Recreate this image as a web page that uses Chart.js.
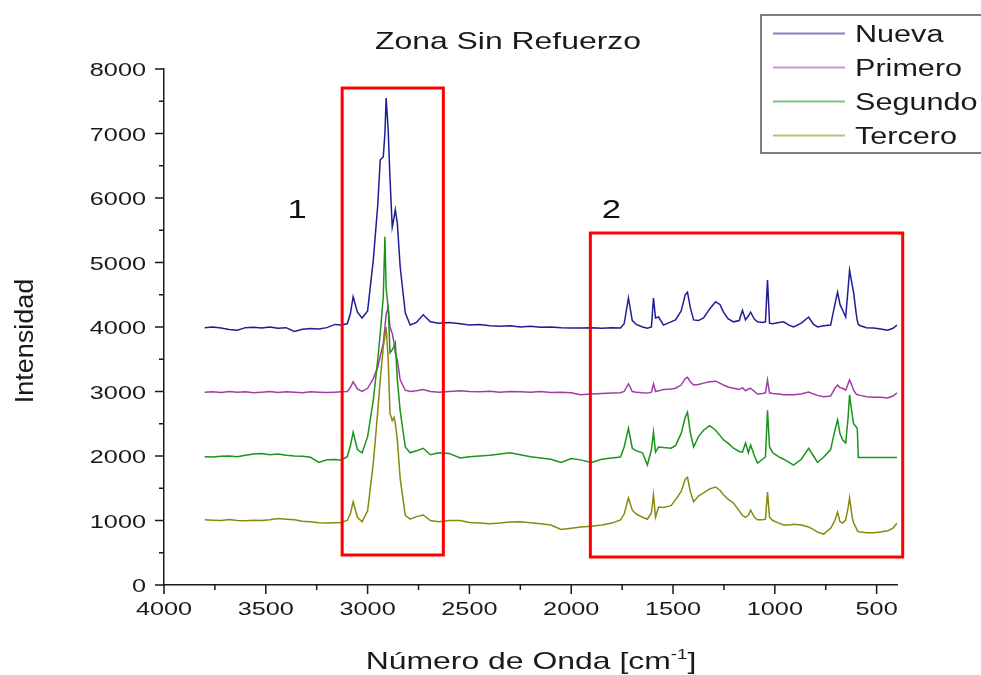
<!DOCTYPE html>
<html>
<head>
<meta charset="utf-8">
<script src="https://cdn.jsdelivr.net/npm/chart.js@4.4.1/dist/chart.umd.min.js"></script>
<style>
  html, body { margin: 0; padding: 0; background: #fff; }
  #wrap { width: 981px; height: 675px; }
</style>
</head>
<body>
<div id="wrap"><canvas id="chart" width="981" height="675"></canvas></div>
<script>
// wavenumber axis (cm-1), shared by the four spectra
const wavenumbers = [
  3800, 3760, 3720, 3680, 3640, 3600, 3560, 3520, 3480, 3440,
  3400, 3360, 3320, 3280, 3240, 3200, 3160, 3130, 3100, 3085,
  3071, 3050, 3027, 3000, 2972, 2950, 2938, 2923, 2915, 2909,
  2899, 2890, 2879, 2870, 2864, 2854, 2840, 2815, 2791, 2760,
  2727, 2692, 2650, 2600,
  2545, 2500, 2450, 2400, 2350, 2300, 2250, 2200, 2150, 2100,
  2050, 2000, 1955, 1900, 1850, 1800,
  1758, 1740, 1719, 1700, 1680, 1650, 1626, 1606, 1596, 1586,
  1571, 1547, 1510, 1488, 1460, 1440, 1429, 1415, 1399, 1375,
  1350, 1320, 1291, 1270, 1252, 1230, 1203, 1175, 1159, 1144,
  1130, 1119, 1100, 1085, 1060, 1046, 1036, 1026, 1010, 980,
  957, 930, 908, 870, 834, 810, 790, 760, 726, 705,
  692, 680, 667, 652, 640, 633, 620, 613, 600, 595,
  590, 580, 550, 515, 480, 446, 420, 400
];

const nueva = [
  3990, 4000, 3985, 3960, 3950, 3990, 3995, 3985, 4000, 3980,
  3990, 3930, 3965, 3975, 3970, 3990, 4040, 4030, 4050, 4200,
  4470, 4230, 4140, 4250, 5040, 5900, 6590, 6640, 7000, 7550,
  7050, 6300, 5550, 5700, 5820, 5610, 4930, 4220, 4030, 4070,
  4190, 4080, 4060, 4070,
  4050, 4030, 4040, 4020, 4010, 4020, 4000, 4010, 3995, 4000,
  3990, 3985, 3985, 3990, 3980, 3990,
  3985, 4050, 4450, 4100, 4040, 4000, 3980, 4000, 4450, 4140,
  4155, 4030, 4080, 4110, 4250, 4500, 4540, 4300, 4110, 4100,
  4140, 4280, 4390, 4350, 4230, 4130, 4080, 4100, 4260, 4110,
  4170, 4230, 4120, 4080, 4070, 4080, 4730, 4060, 4050, 4070,
  4080, 4030, 4000, 4060, 4155, 4040, 4000, 4020, 4030, 4350,
  4540, 4350, 4260, 4155, 4600, 4880, 4650, 4530, 4200, 4100,
  4040, 4020, 3990, 3985, 3970, 3950, 3980, 4030
];

const primero = [
  2990, 2995, 2985, 3000, 2990, 2995, 2980, 2990, 3000, 2985,
  2995, 2990, 2980, 2995, 2990, 2985, 2990, 2995, 3000, 3060,
  3150, 3040, 3000, 3050, 3200, 3380, 3550, 3750, 4000, 4200,
  4300, 4000, 3900, 3750, 3600, 3490, 3180, 3020, 3000, 3010,
  3030, 3000, 2990, 3000,
  3010, 3000, 2995, 3005, 2990, 3000, 2995, 2990, 3000, 2985,
  2990, 2980, 2950, 2960, 2970, 2975,
  2980, 3000, 3120, 3000, 2990, 2980, 2975, 2990, 3120, 3000,
  3010, 3030, 3040, 3050, 3100, 3200, 3220, 3150, 3100, 3110,
  3130, 3150, 3160, 3130, 3100, 3070, 3050, 3030, 3060, 3010,
  3040, 3050, 3000, 2960, 2970, 2980, 3180, 2980, 2970, 2960,
  2950, 2950, 2950, 2960, 2990, 2960, 2940, 2920, 2930, 3050,
  3100, 3060, 3050, 3020, 3120, 3180, 3080, 3020, 2960, 2950,
  2950, 2940, 2920, 2910, 2910, 2900, 2930, 2980
];

const segundo = [
  1990, 1985, 1995, 2000, 1990, 2010, 2030, 2040, 2020, 2030,
  2010, 2000, 1995, 1980, 1900, 1940, 1945, 1935, 1990, 2150,
  2370, 2100, 2050, 2300, 2870, 3500, 3900, 4470, 5400, 4600,
  4300, 3600, 3650, 3700, 3750, 3180, 2700, 2140, 2050, 2080,
  2120, 2020, 2050, 2040,
  1970, 1990, 2000, 2010, 2030, 2050, 2020, 1990, 1970, 1950,
  1900, 1960, 1940, 1900, 1950, 1970,
  1985, 2140, 2430, 2120, 2080, 2050, 1860, 2100, 2370, 2060,
  2140, 2130, 2120, 2160, 2350, 2600, 2680, 2360, 2140, 2300,
  2400, 2470, 2400, 2320, 2250, 2200, 2120, 2070, 2060, 2200,
  2050, 2170, 2000, 1890, 1950, 1985, 2710, 2140, 2050, 1985,
  1950, 1900, 1860, 1950, 2120, 2000, 1900, 1985, 2100, 2400,
  2560, 2350, 2250, 2200, 2600, 2950, 2640, 2500, 2450, 2420,
  1975, 1975, 1975, 1975, 1975, 1975, 1975, 1975
];

const tercero = [
  1010, 1005, 1000, 1015, 1000, 995, 1005, 1000, 1010, 1030,
  1020, 1010, 990, 980, 965, 960, 965, 970, 1000, 1100,
  1290, 1050, 980, 1150, 1890, 2700, 3180, 3690, 3850, 4000,
  3500, 2660, 2550, 2600, 2510, 2250, 1650, 1080, 1020, 1060,
  1085, 1000, 980, 1000,
  1000, 970, 960, 950, 960, 975, 980, 965, 950, 930,
  860, 880, 900, 910, 930, 960,
  1010, 1100, 1350, 1160, 1100, 1050, 1020, 1120, 1400, 1050,
  1210, 1200, 1230, 1320, 1450, 1640, 1670, 1450, 1290, 1380,
  1430, 1490, 1520, 1470, 1400, 1330, 1270, 1150, 1080, 1050,
  1080, 1160, 1050, 1010, 1010, 1020, 1440, 1050, 1000, 960,
  930, 930, 940, 930, 900, 860, 820, 790, 880, 1000,
  1130, 980, 960, 1010, 1200, 1350, 1050, 960, 880, 840,
  830, 820, 810, 810, 820, 840, 880, 960
];

const seriesLabels = ['Nueva', 'Primero', 'Segundo', 'Tercero'];
const seriesValues = [nueva, primero, segundo, tercero];
const seriesColors = ['#1e1e94', '#a03ca6', '#1a941a', '#88880e'];

// axis ticks: multiples of 500 / 1000 get a label, the rest are minor
const xTickValues = [4000, 3750, 3500, 3250, 3000, 2750, 2500, 2250, 2000, 1750, 1500, 1250, 1000, 750, 500];
const yTickValues = [0, 500, 1000, 1500, 2000, 2500, 3000, 3500, 4000, 4500, 5000, 5500, 6000, 6500, 7000, 7500, 8000];

// highlighted zones, in data units (wavenumber / intensity)
const zones = [
  { name: '1', from: 3125, to: 2628, low: 465, high: 7705, tagX: 3346, tagY: 5845 },
  { name: '2', from: 1906, to: 372, low: 434, high: 5457, tagX: 1803, tagY: 5845 }
];

const FONT = '"Liberation Sans", Arial, sans-serif';
const STRETCH = 1.33;

function wideText(ctx, text, x, y, size, align) {
  ctx.save();
  ctx.translate(x, y);
  ctx.scale(STRETCH, 1);
  ctx.font = size + 'px ' + FONT;
  ctx.textAlign = align || 'center';
  ctx.textBaseline = 'alphabetic';
  ctx.fillText(text, 0, 0);
  ctx.restore();
}

const decor = {
  id: 'decor',
  afterDraw(chart) {
    const ctx = chart.ctx;
    const xs = chart.scales.x;
    const ys = chart.scales.y;
    const area = chart.chartArea;
    ctx.save();

    // tick marks, major and minor, and their labels
    ctx.strokeStyle = '#1a1a1a';
    ctx.fillStyle = '#1a1a1a';
    ctx.lineWidth = 1.5;
    ctx.beginPath();
    xs.ticks.forEach(t => {
      const px = xs.getPixelForValue(t.value);
      const major = t.value % 500 === 0;
      ctx.moveTo(px, area.bottom);
      ctx.lineTo(px, area.bottom + (major ? 9 : 5));
    });
    ys.ticks.forEach(t => {
      const py = ys.getPixelForValue(t.value);
      const major = t.value % 1000 === 0;
      ctx.moveTo(area.left, py);
      ctx.lineTo(area.left - (major ? 9 : 5), py);
    });
    ctx.stroke();
    xs.ticks.forEach(t => {
      if (t.value % 500 === 0) {
        wideText(ctx, String(t.value), xs.getPixelForValue(t.value), area.bottom + 30, 19);
      }
    });
    ys.ticks.forEach(t => {
      if (t.value % 1000 === 0) {
        wideText(ctx, String(t.value), area.left - 18, ys.getPixelForValue(t.value) + 7, 19, 'right');
      }
    });

    // red zone boxes
    ctx.strokeStyle = '#ff0000';
    ctx.lineWidth = 3;
    ctx.fillStyle = '#111';
    zones.forEach(z => {
      const x0 = xs.getPixelForValue(z.from);
      const x1 = xs.getPixelForValue(z.to);
      const y0 = ys.getPixelForValue(z.high);
      const y1 = ys.getPixelForValue(z.low);
      ctx.strokeRect(x0, y0, x1 - x0, y1 - y0);
      wideText(ctx, z.name, xs.getPixelForValue(z.tagX), ys.getPixelForValue(z.tagY) + 10, 26);
    });

    // title
    ctx.fillStyle = '#1a1a1a';
    wideText(ctx, 'Zona Sin Refuerzo', 508, 49, 24);

    // x axis title with superscript
    ctx.save();
    ctx.translate(531, 669);
    ctx.scale(STRETCH, 1);
    ctx.textAlign = 'left';
    ctx.textBaseline = 'alphabetic';
    const a = 'Número de Onda [cm', b = '-1', c = ']';
    ctx.font = '24px ' + FONT;
    const wa = ctx.measureText(a).width;
    const wc = ctx.measureText(c).width;
    ctx.font = '14px ' + FONT;
    const wb = ctx.measureText(b).width;
    const x0 = -(wa + wb + wc) / 2;
    ctx.font = '24px ' + FONT;
    ctx.fillText(a, x0, 0);
    ctx.fillText(c, x0 + wa + wb, 0);
    ctx.font = '14px ' + FONT;
    ctx.fillText(b, x0 + wa, -10);
    ctx.restore();

    // y axis title
    ctx.save();
    ctx.translate(33, 341);
    ctx.rotate(-Math.PI / 2);
    ctx.scale(1.08, 1);
    ctx.font = '25px ' + FONT;
    ctx.textAlign = 'center';
    ctx.textBaseline = 'alphabetic';
    ctx.fillText('Intensidad', 0, 0);
    ctx.restore();

    // legend box
    ctx.strokeStyle = '#555';
    ctx.lineWidth = 1.5;
    ctx.strokeRect(761, 15, 240, 138);
    chart.data.datasets.forEach((ds, i) => {
      const y = 33.5 + i * 34;
      ctx.save();
      ctx.globalAlpha = 0.55;
      ctx.strokeStyle = ds.borderColor;
      ctx.lineWidth = 2;
      ctx.beginPath();
      ctx.moveTo(773, y);
      ctx.lineTo(845, y);
      ctx.stroke();
      ctx.restore();
      ctx.fillStyle = '#1a1a1a';
      wideText(ctx, ds.label, 855, y + 8.5, 23, 'left');
    });

    ctx.restore();
  }
};

const datasets = seriesLabels.map((label, i) => ({
  label: label,
  data: wavenumbers.map((w, k) => ({ x: w, y: seriesValues[i][k] })),
  borderColor: seriesColors[i],
  borderWidth: 1.5,
  pointRadius: 0,
  tension: 0,
  fill: false,
  order: seriesLabels.length - i
}));

new Chart(document.getElementById('chart'), {
  type: 'line',
  data: { datasets: datasets },
  options: {
    responsive: false,
    animation: false,
    layout: { padding: { left: 0, top: 69, right: 84, bottom: 0 } },
    plugins: {
      legend: { display: false },
      title: { display: false },
      tooltip: { enabled: false }
    },
    scales: {
      x: {
        type: 'linear',
        reverse: true,
        min: 400,
        max: 4000,
        afterFit(s) { s.height = 90; },
        afterBuildTicks(s) { s.ticks = xTickValues.map(v => ({ value: v })); },
        ticks: { display: false },
        grid: { display: false, drawTicks: false },
        border: { display: true, color: '#1a1a1a', width: 1.5 }
      },
      y: {
        min: 0,
        max: 8000,
        afterFit(s) { s.width = 164; },
        afterBuildTicks(s) { s.ticks = yTickValues.map(v => ({ value: v })); },
        ticks: { display: false },
        grid: { display: false, drawTicks: false },
        border: { display: true, color: '#1a1a1a', width: 1.5 }
      }
    }
  },
  plugins: [decor]
});
</script>
</body>
</html>
